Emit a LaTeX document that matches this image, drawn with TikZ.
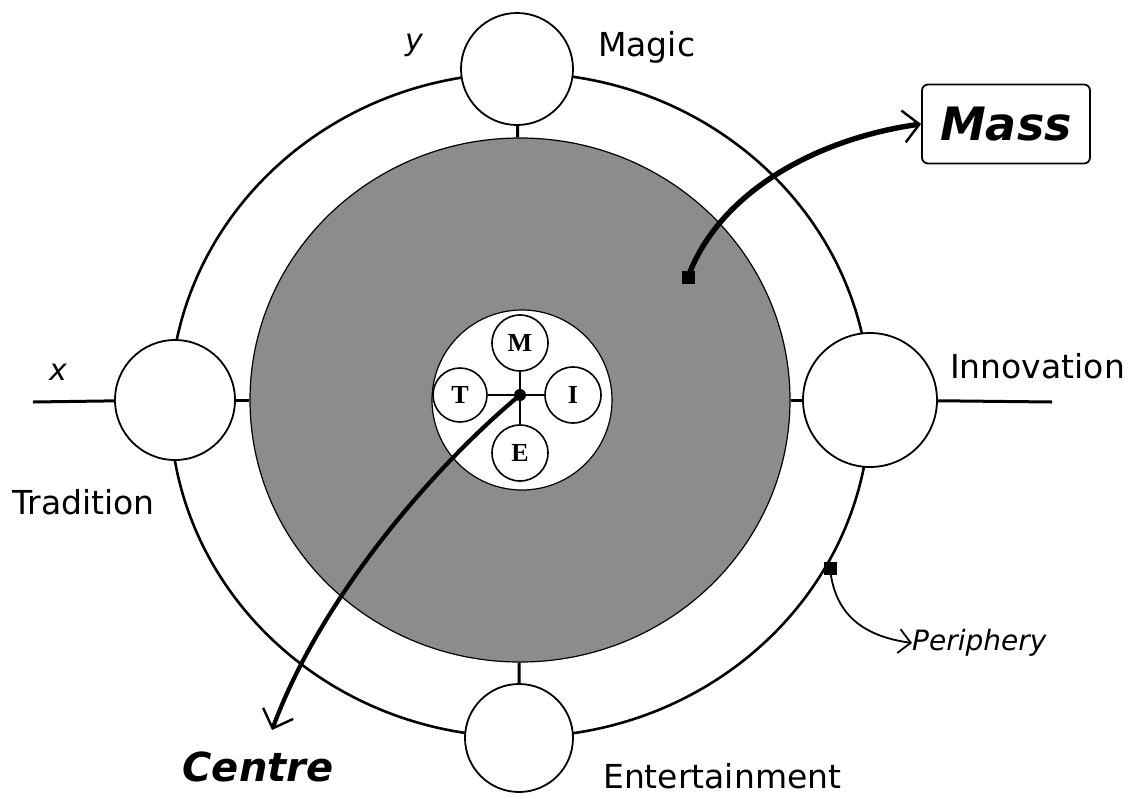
\documentclass[tikz,border=0pt]{standalone}
\usepackage{fontspec}
\usepackage{xcolor}
\usepackage{tikz}
\usetikzlibrary{
  arrows.meta,
  positioning,
  shapes.geometric
}
\newfontfamily\labelfont{DejaVu Sans}
\newfontfamily\letterfont{Liberation Serif}
\definecolor{MassGray}{HTML}{8C8C8C}
\tikzset{
  ring/.style={
    draw,
    line width=2.6pt
  },
  pole/.style={
    circle,
    draw,
    line width=1.8pt,
    fill=white,
    inner sep=0pt,
    minimum size=112pt
  },
  massdisc/.style={
    ellipse,
    draw,
    line width=1.2pt,
    fill=MassGray,
    inner sep=0pt,
    minimum width=540pt,
    minimum height=524pt
  },
  core/.style={
    circle,
    draw,
    line width=1.2pt,
    fill=white,
    inner sep=0pt,
    minimum size=180pt
  },
  letter/.style={
    circle,
    draw,
    line width=1.6pt,
    fill=white,
    inner sep=0pt,
    minimum size=56pt,
    font=\letterfont\bfseries\fontsize{26}{28}\selectfont
  },
  pointsq/.style={
    rectangle,
    fill=black,
    inner sep=0pt,
    minimum size=13pt
  },
  hubdot/.style={
    circle,
    fill=black,
    inner sep=0pt,
    minimum size=12pt
  },
  axis/.style={
    line width=3pt
  },
  spoke/.style={
    line width=1.6pt
  },
  label/.style={
    font=\labelfont\fontsize{33}{36}\selectfont,
    inner sep=0pt
  },
  var/.style={
    font=\labelfont\itshape\fontsize{30}{32}\selectfont,
    inner sep=0pt
  },
  tag/.style={
    font=\labelfont\bfseries\itshape\fontsize{46}{50}\selectfont
  },
  pointer/.style={
    -{Straight Barb[length=16pt,width=32pt,line width=2.4pt]},
    line width=5.4pt
  }
}

\begin{document}
\begin{tikzpicture}[
  x=1pt,
  y=-1pt
]
  \useasboundingbox (0,0) rectangle (1134,798);

  % outer ring (periphery)
  \draw[ring] (520,405) ellipse [x radius=350pt, y radius=332pt];

  \node[massdisc] (mass) at (520,400) {};
  \node[core] (core) at (522,400) {};

  % poles on the ring
  \node[pole] (magic) at (517,69) {};
  \node[pole, minimum size=120pt] (tradition) at (175,400) {};
  \node[pole, minimum size=134pt] (innovation) at (870,400) {};
  \node[pole, minimum size=108pt] (entertainment) at (519,738) {};

  \draw[axis] (magic) -- (mass);
  \draw[axis] (entertainment) -- (mass);
  \draw[axis] (tradition) -- (mass);
  \draw[axis] (innovation) -- (mass);

  \coordinate (xleft) at (33,402);
  \coordinate (xright) at (1052,402);
  \draw[axis] (xleft) -- (tradition);
  \draw[axis] (innovation) -- (xright);

  % the four letters in the core
  \node[hubdot] (hub) at (520,395) {};
  \node[letter] (m) at (520,343) {M};
  \node[letter, minimum size=54pt] (t) at (460,395) {T};
  \node[letter] (i) at (573,395) {I};
  \node[letter] (e) at (520,453) {E};

  \draw[spoke] (hub) -- (m);
  \draw[spoke] (hub) -- (t);
  \draw[spoke] (hub) -- (i);
  \draw[spoke] (hub) -- (e);

  % labels
  \node[label, anchor=west] (magiclbl) at (598,47) {Magic};
  \node[label, anchor=west] (innovationlbl) at (950,366) {Innovation};
  \node[label, anchor=west] (traditionlbl) at (12,502) {Tradition};
  \node[label, anchor=west] (entertainmentlbl) at (603,776) {Entertainment};
  \node[var] (xlbl) at (58,372) {x};
  \node[var] (ylbl) at (414,45) {y};

  % pointers
  \node[
    tag,
    draw,
    line width=1.8pt,
    rounded corners=6pt,
    minimum width=168pt,
    minimum height=79pt
  ] (masstag) at (1006,124) {Mass};
  \node[pointsq] (masspt) at (688,277) {};
  \draw[pointer]
  (masspt.center) .. controls (720,190) and (820,138) ..
  (masstag.west);

  \node[
    tag,
    font=\labelfont\bfseries\itshape\fontsize{40}{44}\selectfont
  ] (centre) at (258,767) {Centre};
  \coordinate (centretip) at (272,730);
  \draw[
    pointer,
    line width=4.2pt
  ]
  (hub.center) .. controls (430,470) and (320,600) ..
  (centretip);

  \node[
    var,
    font=\labelfont\itshape\fontsize{28}{30}\selectfont,
    anchor=west
  ] (periphery) at (912,643) {Periphery};
  \node[pointsq] (peript) at (830,568) {};
  \draw[
    -{Straight Barb[length=12pt,width=24pt,line width=1.8pt]},
    line width=1.8pt
  ]
  (peript.center) .. controls (835,620) and (870,637) ..
  (periphery.west);

\end{tikzpicture}
\end{document}
